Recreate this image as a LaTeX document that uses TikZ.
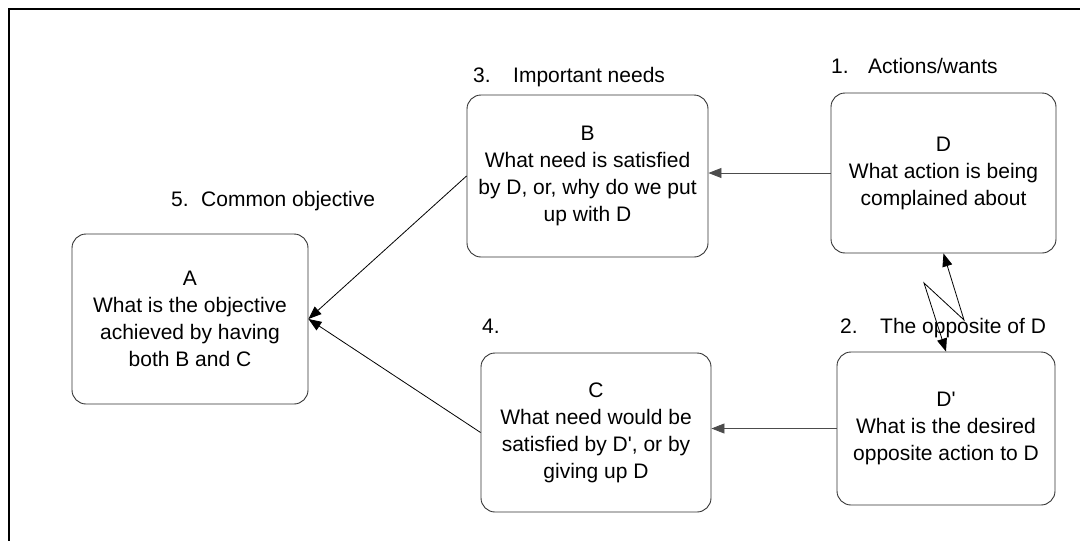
\documentclass[tikz,border=0pt]{standalone}
\usepackage{fontspec}
\setmainfont{Liberation Sans}
\usetikzlibrary{arrows.meta}
\begin{document}
\begin{tikzpicture}[x=1pt,y=-1pt,
  txt/.style={font=\fontsize{21}{27}\selectfont},
  box/.style={txt, draw=black!80, line width=0.9pt, rounded corners=14pt,
    align=center, inner sep=0pt},
  lbl/.style={txt, anchor=base west, inner sep=0pt},
  link/.style={line width=0.8pt, -{Triangle[length=13pt,width=10pt]}},
]
\useasboundingbox (0,0) rectangle (1080,541);
% frame
\draw[line width=2pt] (9,541) -- (9,9) -- (1080,9);

% boxes
\node[box, minimum width=236pt, minimum height=170pt] (A) at (190,319)
  {A\\What is the objective\\achieved by having\\both B and C};
\node[box, minimum width=241pt, minimum height=162pt] (B) at (587.5,176)
  {B\\What need is satisfied\\by D, or, why do we put\\up with D};
\node[box, minimum width=225pt, minimum height=160pt] (D) at (943.5,173)
  {D\\What action is being\\complained about};
\node[box, minimum width=230pt, minimum height=159pt] (C) at (596,432.5)
  {C\\What need would be\\satisfied by D\textquotesingle, or by\\giving up D};
\node[box, minimum width=218pt, minimum height=153pt] (Dp) at (946,428.5)
  {D\textquotesingle\\What is the desired\\opposite action to D};

% headings
\node[lbl] (l1) at (831,73) {\makebox[37pt][l]{1.}Actions/wants};
\node[lbl] (l2) at (840,333) {\makebox[40pt][l]{2.}The opposite of D};
\node[lbl] (l3) at (473,82) {\makebox[40pt][l]{3.}Important needs};
\node[lbl] (l4) at (482,333) {4.};
\node[lbl] (l5) at (171,206) {\makebox[30pt][l]{5.}Common objective};

% connectors
\draw[link, draw=black!70] (D.west) -- (D.west -| B.east);
\draw[link, draw=black!70] (Dp.west) -- (Dp.west -| C.east);
\draw[link] (B.west) -- (A.east);
\draw[link] (C.west) -- (A.east);
\coordinate (z1) at (964,320);
\coordinate (z2) at (924,283);
\draw[line width=0.8pt, {Triangle[length=13pt,width=10pt]}-{Triangle[length=13pt,width=10pt]}]
  (D.south) -- (z1) -- (z2) -- (Dp.north);
\end{tikzpicture}
\end{document}
